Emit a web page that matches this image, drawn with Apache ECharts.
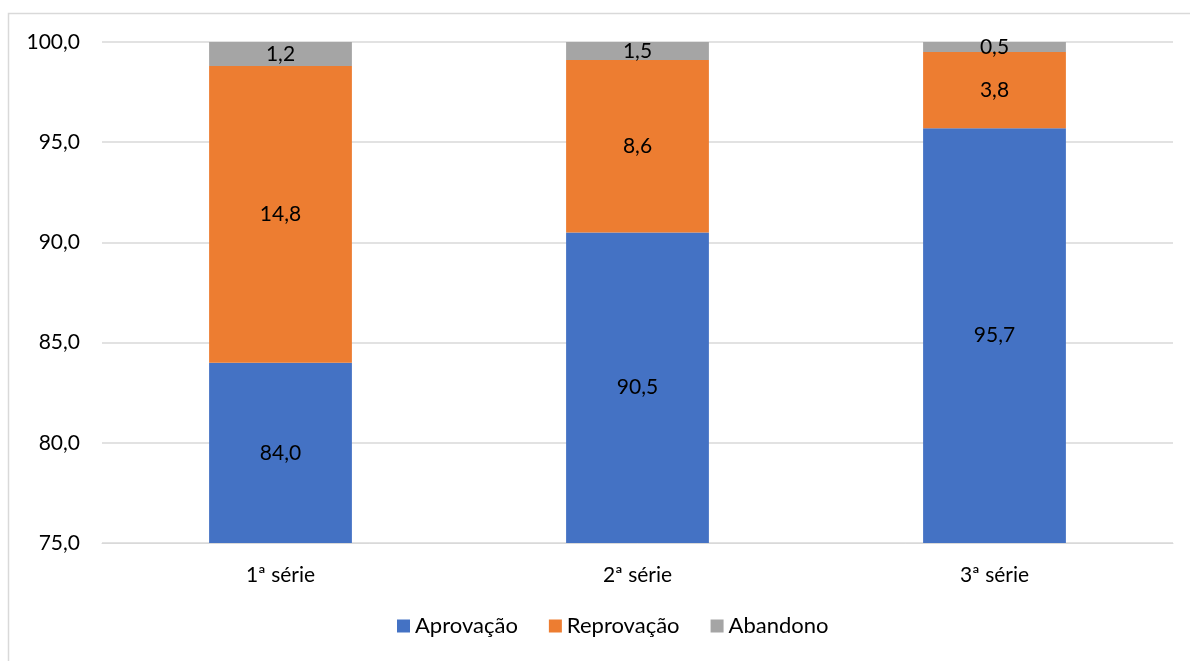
<!DOCTYPE html>
<html>
<head>
<meta charset="utf-8">
<script src="https://cdn.jsdelivr.net/npm/echarts@6/dist/echarts.min.js"></script>
<style>
  html, body { margin: 0; padding: 0; background: #fff; }
  #chart { width: 1190px; height: 661px; }
</style>
</head>
<body>
<div id="chart"></div>
<script>
// School years and flow rates (%) per year
const categories = ['1ª série', '2ª série', '3ª série'];
const aprovacao = [84.0, 90.5, 95.7];
const reprovacao = [14.8, 8.6, 3.8];
const abandono = [1.2, 1.5, 0.5];
const seriesNames = ['Aprovação', 'Reprovação', 'Abandono'];
const colors = ['#4472c4', '#ed7d31', '#a5a5a5'];

const fontFamily = 'Lato, "Open Sans", sans-serif';
const fontSize = 21;
const fmt = v => v.toFixed(1).replace('.', ',');

const chart = echarts.init(document.getElementById('chart'));

function barSeries(name, data, color) {
  return {
    name: name,
    type: 'bar',
    stack: 'total',
    data: data,
    barWidth: '40%',
    clip: true,
    itemStyle: { color: color },
    label: {
      show: true,
      position: 'inside',
      color: '#000',
      fontFamily: fontFamily,
      fontSize: fontSize,
      formatter: p => fmt(p.value)
    }
  };
}

chart.setOption({
  animation: false,
  color: colors,
  graphic: [{
    type: 'rect',
    shape: { x: 8.5, y: 13.5, width: 1300, height: 800 },
    style: { fill: 'none', stroke: '#d9d9d9', lineWidth: 1.5 },
    silent: true
  }],
  grid: { left: 102, right: 17, top: 42, bottom: 118, containLabel: false },
  legend: {
    bottom: 19,
    left: 392,
    icon: 'rect',
    itemWidth: 13,
    itemHeight: 13,
    itemGap: 31,
    textStyle: { color: '#000', fontFamily: fontFamily, fontSize: 22 },
    data: seriesNames
  },
  xAxis: {
    type: 'category',
    data: categories,
    axisLine: { show: true, lineStyle: { color: '#d9d9d9' } },
    axisTick: { show: false },
    axisLabel: { color: '#000', fontFamily: fontFamily, fontSize: fontSize, margin: 22 }
  },
  yAxis: {
    type: 'value',
    min: 75,
    max: 100,
    interval: 5,
    axisLine: { show: false },
    axisTick: { show: false },
    splitLine: { lineStyle: { color: '#d9d9d9', width: 1.5 } },
    axisLabel: {
      color: '#000', fontFamily: fontFamily, fontSize: fontSize, margin: 22,
      formatter: v => fmt(v)
    }
  },
  series: [
    barSeries(seriesNames[0], aprovacao, colors[0]),
    barSeries(seriesNames[1], reprovacao, colors[1]),
    barSeries(seriesNames[2], abandono, colors[2])
  ]
});
</script>
</body>
</html>
